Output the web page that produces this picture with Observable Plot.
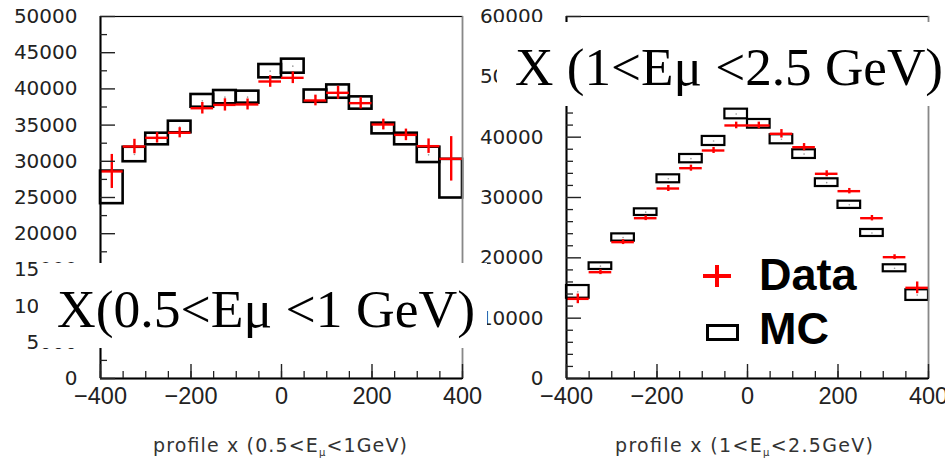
<!DOCTYPE html>
<html><head><meta charset="utf-8">
<script src="https://cdn.jsdelivr.net/npm/d3@7"></script>
<script src="https://cdn.jsdelivr.net/npm/@observablehq/plot@0.6"></script>
<style>
body{margin:0;background:#fff;}
#wrap{position:relative;width:945px;height:464px;overflow:hidden;background:#fff;}
#wrap > svg{position:absolute;top:0;}
</style></head><body><div id="wrap"></div>
<script>
// bin centres (profile x, bin width 50)
const binCenters = [-375,-325,-275,-225,-175,-125,-75,-25,25,75,125,175,225,275,325,375];
const binWidth = 50;

// Left panel: 0.5 < Eμ < 1 GeV
const dataL    = [28600,32040,33240,33940,37330,37790,37850,41020,41530,38400,39460,38030,35080,33650,32090,30340];
const dataErrL = [2350,1000,720,700,800,850,760,800,800,740,900,800,740,800,1000,3070];
const mcL      = [26400,30940,33080,34740,38350,38860,38860,42450,43140,39000,39630,38050,34530,33080,30890,27600];
const mcErrL   = [2250,1000,800,800,880,920,830,920,970,850,920,850,740,800,1060,2670];

// Right panel: 1 < Eμ < 2.5 GeV
const dataR    = [13200,17620,22600,26570,31490,34860,37790,41940,41940,40560,38340,33930,31050,26570,20110,15030];
const dataErrR = [800,400,400,400,500,500,500,550,550,700,600,500,450,450,400,970];
const mcR      = [14360,18620,23370,27570,33100,36440,39370,43840,42210,39650,37190,32460,28790,24120,18270,13820];
const mcErrR   = [1050,550,600,550,660,690,750,800,720,750,720,640,600,580,580,880];

// ticks & labels
const xTicks  = [-400,-200,0,200,400];
const xMinor  = [-400,-350,-300,-250,-200,-150,-100,-50,0,50,100,150,200,250,300,350,400];
const yTicksL = [0,5000,10000,15000,20000,25000,30000,35000,40000,45000,50000];
const yMinorL = [2500,7500,12500,17500,22500,27500,32500,37500,42500,47500];
const yTicksR = [0,10000,20000,30000,40000,50000,60000];
const yMinorR = [2000,4000,6000,8000,12000,14000,16000,18000,22000,24000,26000,28000,32000,34000,36000,38000,42000,44000,46000,48000,52000,54000,56000,58000];
const titleL = "X(0.5<Eμ <1 GeV)";
const titleR = "X (1<Eμ <2.5 GeV)";
const xLabelL = ["profile x (0.5<E", "μ", "<1GeV)"];
const xLabelR = ["profile x (1<E", "μ", "<2.5GeV)"];
const seriesNames = ["Data", "MC"];

function panel({data, dataErr, mc, mcErr, yMax, yMajor, yMinor, width, marginLeft, marginRight, sw}) {
  const rows = binCenters.map((c, i) => ({c, x1: c - binWidth/2, x2: c + binWidth/2, d: data[i], de: dataErr[i], m: mc[i], me: mcErr[i]}));
  return Plot.plot({
    width, height: 464, marginTop: 16, marginBottom: 86, marginLeft, marginRight,
    x: {domain: [-400, 400], label: null},
    y: {domain: [0, yMax], label: null},
    style: {background: "transparent", overflow: "visible"},
    marks: [
      Plot.rect(rows, {x1: "x1", x2: "x2", y1: d => d.m - d.me, y2: d => d.m + d.me, fill: "none", stroke: "#000", strokeWidth: sw}),
      Plot.dot(rows, {x: "c", y: "m", r: 0.8, fill: "#999"}),
      Plot.ruleY(rows, {x1: "x1", x2: "x2", y: "d", stroke: "#ff0000", strokeWidth: 2.4}),
      Plot.ruleX(rows, {x: "c", y1: d => d.d - d.de, y2: d => d.d + d.de, stroke: "#ff0000", strokeWidth: 2.4}),
      Plot.frame({stroke: "#000", strokeWidth: 1.2}),
      Plot.ruleX([400], {stroke: "#888", strokeWidth: 1.5}),
      Plot.ruleX([-400], {stroke: "#000", strokeWidth: 2}),
      Plot.ruleY([0], {stroke: "#000", strokeWidth: 2}),
      Plot.axisY({ticks: yMajor, tickSize: 15, dx: 15, tickPadding: 23, label: null, fontFamily: "DejaVu Sans", fontSize: 20, color: "#222", strokeWidth: 1.4, tickFormat: d => String(d)}),
      Plot.axisY({ticks: yMinor, tickSize: 7, dx: 7, label: null, tickFormat: () => "", color: "#222", strokeWidth: 1.3}),
      Plot.axisX({ticks: xTicks, tickSize: 14, dy: -14, tickPadding: 9, label: null, fontFamily: "Liberation Sans", fontSize: 23.5, color: "#222", strokeWidth: 1.4}),
      Plot.axisX({ticks: xMinor, tickSize: 7, dy: -7, label: null, tickFormat: () => "", color: "#222", strokeWidth: 1.3})
    ]
  });
}

const wrap = document.getElementById("wrap");
const left = panel({data: dataL, dataErr: dataErrL, mc: mcL, mcErr: mcErrL, yMax: 50000, yMajor: yTicksL, yMinor: yMinorL, width: 470, marginLeft: 100, marginRight: 8, sw: 2.6});
left.style.left = "0px";
wrap.appendChild(left);
const right = panel({data: dataR, dataErr: dataErrR, mc: mcR, mcErr: mcErrR, yMax: 60000, yMajor: yTicksR, yMinor: yMinorR, width: 475, marginLeft: 96, marginRight: 17, sw: 2.2});
right.style.left = "470px";
wrap.appendChild(right);

// overlays: x-axis titles, big panel titles, legend
const ov = d3.select(wrap).append("svg").attr("width", 945).attr("height", 464).style("left", "0px");

function xTitle(parts, x, len) {
  const t = ov.append("text").attr("x", x).attr("y", 452)
    .attr("font-family", "DejaVu Sans").attr("font-size", 19).attr("fill", "#333")
    .attr("textLength", len).attr("lengthAdjust", "spacing");
  t.append("tspan").text(parts[0]);
  t.append("tspan").attr("font-size", 10).attr("dy", 4).text(parts[1]);
  t.append("tspan").attr("dy", -4).text(parts[2]);
}
xTitle(xLabelL, 153, 254);
xTitle(xLabelR, 615, 258);

ov.append("rect").attr("x", 38).attr("y", 263).attr("width", 449).attr("height", 85).attr("fill", "#fff");
ov.append("text").attr("x", 57).attr("y", 327).attr("font-family", "Liberation Serif").attr("font-size", 53)
  .attr("textLength", 418).attr("lengthAdjust", "spacingAndGlyphs").attr("fill", "#000").text(titleL);

ov.append("rect").attr("x", 497).attr("y", 22).attr("width", 448).attr("height", 84).attr("fill", "#fff");
ov.append("text").attr("x", 515).attr("y", 85).attr("font-family", "Liberation Serif").attr("font-size", 53)
  .attr("textLength", 428).attr("lengthAdjust", "spacingAndGlyphs").attr("fill", "#000").text(titleR);

// legend
ov.append("path").attr("d", "M703,276H731M717,265V287").attr("stroke", "#ff0000").attr("stroke-width", 4).attr("fill", "none");
ov.append("rect").attr("x", 707.5).attr("y", 325.5).attr("width", 30).attr("height", 14).attr("fill", "none").attr("stroke", "#000").attr("stroke-width", 3);
ov.append("text").attr("x", 759).attr("y", 290).attr("font-family", "Liberation Sans").attr("font-weight", "bold").attr("font-size", 45).attr("fill", "#000").text(seriesNames[0]);
ov.append("text").attr("x", 759).attr("y", 344).attr("font-family", "Liberation Sans").attr("font-weight", "bold").attr("font-size", 45).attr("fill", "#000").text(seriesNames[1]);
</script>
</body></html>
